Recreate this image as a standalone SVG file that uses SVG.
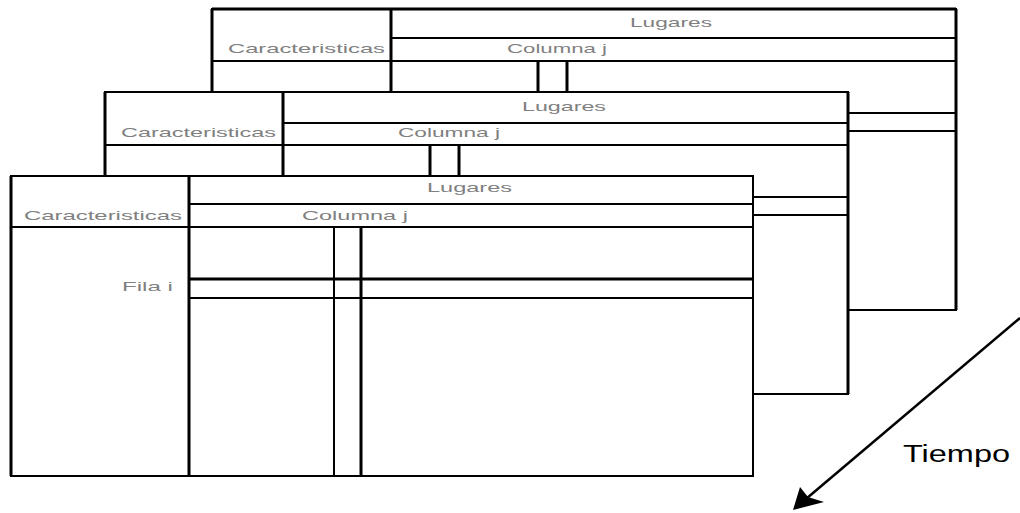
<svg xmlns="http://www.w3.org/2000/svg" width="1020" height="513" viewBox="0 0 1020 513">
<style>
.box{fill:#fff;stroke:#000;stroke-width:2}
.thk{stroke:#000;stroke-width:3;fill:none}
.thn{stroke:#000;stroke-width:2;fill:none}
.lbl{font-family:"Liberation Sans",Arial,sans-serif;font-size:13px;fill:#808080}
.big{font-family:"Liberation Sans",Arial,sans-serif;font-size:23px;fill:#000}
</style>
<g id="table-back">
<rect class="box" x="212" y="9" width="744" height="301"/>
<line class="thk" x1="212" y1="9" x2="956" y2="9"/>
<line class="thk" x1="212" y1="9" x2="212" y2="310"/>
<line class="thk" x1="956" y1="9" x2="956" y2="310"/>
<line class="thk" x1="391" y1="9" x2="391" y2="310"/>
<line class="thn" x1="391" y1="38" x2="956" y2="38"/>
<line class="thn" x1="212" y1="61" x2="956" y2="61"/>
<line class="thk" x1="538" y1="61" x2="538" y2="310"/>
<line class="thk" x1="567" y1="61" x2="567" y2="310"/>
<line class="thn" x1="391" y1="113" x2="956" y2="113"/>
<line class="thn" x1="391" y1="131" x2="956" y2="131"/>
<text class="lbl" x="630" y="27" textLength="82" lengthAdjust="spacingAndGlyphs">Lugares</text>
<text class="lbl" x="228" y="53" textLength="157" lengthAdjust="spacingAndGlyphs">Caracteristicas</text>
<text class="lbl" x="507" y="53" textLength="100" lengthAdjust="spacingAndGlyphs">Columna j</text>
</g>
<g id="table-middle">
<rect class="box" x="105" y="92" width="743" height="302"/>
<line class="thk" x1="105" y1="92" x2="105" y2="394"/>
<line class="thk" x1="848" y1="92" x2="848" y2="394"/>
<line class="thk" x1="283" y1="92" x2="283" y2="394"/>
<line class="thn" x1="283" y1="123" x2="848" y2="123"/>
<line class="thn" x1="105" y1="145" x2="848" y2="145"/>
<line class="thk" x1="430" y1="145" x2="430" y2="394"/>
<line class="thk" x1="459" y1="145" x2="459" y2="394"/>
<line class="thn" x1="283" y1="197" x2="848" y2="197"/>
<line class="thn" x1="283" y1="215" x2="848" y2="215"/>
<text class="lbl" x="522" y="111" textLength="84" lengthAdjust="spacingAndGlyphs">Lugares</text>
<text class="lbl" x="121" y="137" textLength="155" lengthAdjust="spacingAndGlyphs">Caracteristicas</text>
<text class="lbl" x="398" y="137" textLength="102" lengthAdjust="spacingAndGlyphs">Columna j</text>
</g>
<g id="table-front">
<rect class="box" x="11" y="176" width="742" height="300"/>
<line class="thk" x1="11" y1="176" x2="11" y2="476"/>
<line class="thn" x1="753" y1="176" x2="753" y2="476"/>
<line class="thk" x1="189" y1="176" x2="189" y2="477"/>
<line class="thn" x1="189" y1="204" x2="753" y2="204"/>
<line class="thn" x1="11" y1="227" x2="753" y2="227"/>
<line class="thn" x1="334" y1="227" x2="334" y2="476"/>
<line class="thk" x1="361" y1="227" x2="361" y2="476"/>
<line class="thk" x1="189" y1="279" x2="753" y2="279"/>
<line class="thn" x1="189" y1="298" x2="753" y2="298"/>
<text class="lbl" x="427" y="192" textLength="85" lengthAdjust="spacingAndGlyphs">Lugares</text>
<text class="lbl" x="24" y="220" textLength="158" lengthAdjust="spacingAndGlyphs">Caracteristicas</text>
<text class="lbl" x="302" y="220" textLength="106" lengthAdjust="spacingAndGlyphs">Columna j</text>
<text class="lbl" x="122" y="291" textLength="51" lengthAdjust="spacingAndGlyphs">Fila i</text>
</g>
<g id="connectors">
<line x1="1020" y1="318" x2="800" y2="504" stroke="#000" stroke-width="2.5"/>
<path d="M793,510 L800,487 L808,497 L824,502 Z" fill="#000"/>
</g>
<text class="big" x="903" y="462" textLength="107" lengthAdjust="spacingAndGlyphs">Tiempo</text>
</svg>
